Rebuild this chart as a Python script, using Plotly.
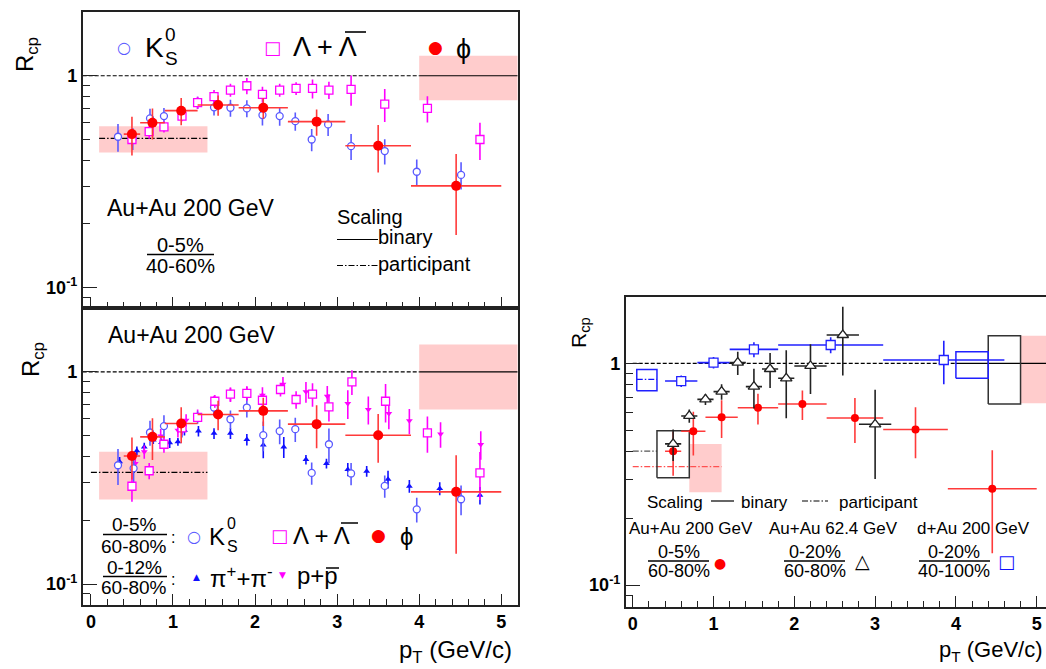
import math
import plotly.graph_objects as go

W, H = 1046, 669

# ---------------- DATA ----------------
# Top panel: Au+Au 200 GeV, 0-5% / 40-60%
top_k0s_pt = [0.33, 0.51, 0.72, 0.89, 1.30, 1.50, 1.70, 1.90, 2.09, 2.30, 2.49, 2.69, 2.89, 3.17, 3.58, 3.97, 4.51]
top_k0s_r = [0.515, 0.506, 0.629, 0.645, 0.746, 0.709, 0.706, 0.701, 0.652, 0.645, 0.610, 0.500, 0.589, 0.465, 0.441, 0.352, 0.340]
top_k0s_e = [0.077, 0.060, 0.070, 0.060, 0.050, 0.060, 0.065, 0.065, 0.070, 0.065, 0.060, 0.060, 0.070, 0.065, 0.060, 0.050, 0.050]

top_lam_pt = [0.50, 0.71, 0.89, 1.11, 1.30, 1.50, 1.70, 1.90, 2.09, 2.30, 2.50, 2.70, 2.90, 3.17, 3.58, 4.10, 4.74]
top_lam_r = [0.500, 0.544, 0.574, 0.645, 0.746, 0.796, 0.856, 0.897, 0.816, 0.856, 0.871, 0.871, 0.856, 0.862, 0.735, 0.701, 0.500]
top_lam_e = [0.035, 0.040, 0.035, 0.035, 0.050, 0.060, 0.060, 0.080, 0.070, 0.060, 0.060, 0.090, 0.080, 0.140, 0.130, 0.100, 0.100]

phi_pt = [0.50, 0.75, 1.10, 1.55, 2.10, 2.75, 3.50, 4.45]
phi_bin_half = [0.10, 0.15, 0.20, 0.25, 0.30, 0.35, 0.40, 0.55]
top_phi_r = [0.530, 0.600, 0.684, 0.727, 0.706, 0.607, 0.467, 0.302]
top_phi_e = [0.110, 0.100, 0.100, 0.080, 0.080, 0.086, 0.118, 0.125]

# Bottom panel: Au+Au 200 GeV, 0-5% / 60-80% (and 0-12% / 60-80%)
bot_k0s_pt = [0.33, 0.52, 0.72, 0.89, 1.11, 1.30, 1.50, 1.70, 1.90, 2.10, 2.30, 2.49, 2.69, 2.90, 3.17, 3.58, 3.97, 4.51]
bot_k0s_r = [0.363, 0.351, 0.518, 0.555, 0.541, 0.610, 0.679, 0.598, 0.679, 0.503, 0.526, 0.537, 0.334, 0.456, 0.332, 0.290, 0.225, 0.251]
bot_k0s_e = [0.070, 0.060, 0.070, 0.070, 0.050, 0.040, 0.060, 0.060, 0.070, 0.080, 0.070, 0.070, 0.040, 0.085, 0.040, 0.035, 0.030, 0.040]

bot_lam_pt = [0.50, 0.71, 0.89, 1.11, 1.30, 1.51, 1.70, 1.90, 2.09, 2.31, 2.50, 2.70, 2.90, 3.18, 3.59, 4.10, 4.74]
bot_lam_r = [0.289, 0.342, 0.456, 0.545, 0.610, 0.727, 0.785, 0.791, 0.735, 0.826, 0.741, 0.785, 0.684, 0.897, 0.727, 0.516, 0.334]
bot_lam_e = [0.045, 0.030, 0.040, 0.040, 0.030, 0.050, 0.060, 0.060, 0.060, 0.060, 0.070, 0.100, 0.100, 0.120, 0.150, 0.100, 0.085]

bot_pi_pt = [0.35, 0.56, 0.65, 0.76, 0.86, 0.96, 1.06, 1.14, 1.31, 1.50, 1.70, 1.90, 2.10, 2.35, 2.62, 2.87, 3.13, 3.36, 3.62, 3.88, 4.25, 4.74]
bot_pi_r = [0.377, 0.425, 0.443, 0.477, 0.465, 0.463, 0.468, 0.531, 0.526, 0.513, 0.513, 0.480, 0.452, 0.443, 0.386, 0.370, 0.347, 0.340, 0.312, 0.289, 0.282, 0.262]
bot_pi_e = [0.020, 0.020, 0.020, 0.020, 0.020, 0.025, 0.020, 0.030, 0.030, 0.030, 0.030, 0.030, 0.060, 0.050, 0.020, 0.020, 0.025, 0.020, 0.030, 0.020, 0.020, 0.025]

bot_p_pt = [0.54, 0.65, 0.85, 1.06, 1.16, 1.30, 1.50, 1.70, 1.90, 2.09, 2.34, 2.62, 2.88, 3.13, 3.38, 3.63, 3.88, 4.26, 4.75]
bot_p_r = [0.370, 0.420, 0.498, 0.531, 0.592, 0.625, 0.722, 0.782, 0.796, 0.776, 0.875, 0.805, 0.768, 0.709, 0.665, 0.637, 0.588, 0.509, 0.455]
bot_p_e = [0.030, 0.030, 0.040, 0.040, 0.040, 0.040, 0.050, 0.060, 0.060, 0.070, 0.070, 0.090, 0.090, 0.110, 0.100, 0.100, 0.080, 0.070, 0.070]

bot_phi_r = [0.401, 0.494, 0.571, 0.630, 0.655, 0.567, 0.503, 0.272]
bot_phi_e = [0.090, 0.110, 0.110, 0.100, 0.100, 0.130, 0.130, 0.133]

# Right panel: Au+Au 62.4 GeV 0-20%/60-80% phi, d+Au 200 GeV 0-20%/40-100% phi
auau62_pt = [0.5, 0.7, 0.9, 1.1, 1.3, 1.5, 1.7, 1.9, 2.2, 2.6, 3.0]
auau62_half = [0.1, 0.1, 0.1, 0.1, 0.1, 0.1, 0.1, 0.1, 0.2, 0.2, 0.2]
auau62_r = [0.433, 0.579, 0.688, 0.745, 1.007, 0.785, 0.943, 0.856, 0.973, 1.342, 0.531]
auau62_e = [0.070, 0.040, 0.040, 0.060, 0.120, 0.160, 0.170, 0.290, 0.245, 0.460, 0.230]

dau_pt = [0.60, 1.00, 1.50, 2.45, 3.85]
dau_half = [0.20, 0.20, 0.30, 0.65, 0.75]
dau_r = [0.832, 1.007, 1.156, 1.210, 1.035]
dau_e = [0.050, 0.060, 0.090, 0.100, 0.230]

# Scaling uncertainty bands [x0, x1, y0, y1]
top_part_band = [0.10, 1.42, 0.434, 0.578]
top_part_level = 0.506
top_bin_band = [4.00, 5.20, 0.767, 1.243]
bot_part_band = [0.10, 1.42, 0.250, 0.420]
bot_part_level = 0.336
bot_bin_band = [4.00, 5.20, 0.665, 1.345]
r_auau_part_band = [0.70, 1.10, 0.262, 0.433]
r_auau_part_level = 0.342
r_auau_bin_band = [4.80, 5.20, 0.660, 1.333]
r_62_part_box = [0.30, 0.70, 0.305, 0.497]
r_62_part_level = 0.402
r_62_bin_box = [4.40, 4.80, 0.656, 1.333]
r_dau_part_box = [0.05, 0.30, 0.753, 0.939]
r_dau_part_level = 0.847
r_dau_bin_box = [4.00, 4.40, 0.856, 1.129]

# ---------------- STYLE ----------------
FONT = "Liberation Sans, Arial, sans-serif"
PINK = "rgb(255,204,204)"
BLUE_K = "#5a5aff"
BLUE = "#1010ff"
MAG = "#ff00ff"
RED = "#ff0000"
RED_E = "#ff3a3a"

def pxX(x):
    return x / W

def pxY(y):
    return 1 - y / H

fig = go.Figure()

def band(ax, b, color):
    x0, x1, y0, y1 = b
    fig.add_trace(go.Scatter(x=[x0, x1, x1, x0, x0], y=[y0, y0, y1, y1, y0], mode="lines",
                             fill="toself", fillcolor=color, line=dict(width=0),
                             xaxis="x" + ax, yaxis="y" + ax, hoverinfo="skip", showlegend=False))

def box(ax, b, color):
    x0, x1, y0, y1 = b
    fig.add_trace(go.Scatter(x=[x0, x1, x1, x0, x0], y=[y0, y0, y1, y1, y0], mode="lines",
                             line=dict(color=color, width=1.5),
                             xaxis="x" + ax, yaxis="y" + ax, hoverinfo="skip", showlegend=False))

def hline(ax, x0, x1, y, color, dash, width=1.2):
    fig.add_trace(go.Scatter(x=[x0, x1], y=[y, y], mode="lines",
                             line=dict(color=color, width=width, dash=dash),
                             xaxis="x" + ax, yaxis="y" + ax, hoverinfo="skip", showlegend=False))

def series(ax, x, y, ey, symbol, size, fill, lc, ecol, ex=None, lw=1.3, ew=1.6):
    kw = {}
    if ex is not None:
        kw["error_x"] = dict(type="data", array=ex, visible=True, color=ecol, thickness=ew, width=0)
    fig.add_trace(go.Scatter(x=x, y=y, mode="markers",
                             marker=dict(symbol=symbol, size=size, color=fill, line=dict(color=lc, width=lw)),
                             error_y=dict(type="data", array=ey, visible=True, color=ecol, thickness=ew, width=0),
                             xaxis="x" + ax, yaxis="y" + ax, showlegend=False, **kw))

DASH = "4px,2px"
DASHDOT = "6px,2px,1.5px,2px"

# ---- top panel (axis suffix "") ----
band("", top_part_band, PINK)
band("", top_bin_band, PINK)
hline("", -0.1, 4.0, 1.0, "black", DASH)
hline("", 4.0, 5.2, 1.0, "black", "solid")
hline("", top_part_band[0], top_part_band[1], top_part_level, "black", DASHDOT)
series("", top_k0s_pt, top_k0s_r, top_k0s_e, "circle", 7, "white", BLUE_K, BLUE_K)
series("", top_lam_pt, top_lam_r, top_lam_e, "square", 8, "white", MAG, MAG)
series("", phi_pt, top_phi_r, top_phi_e, "circle", 10, RED, RED, RED_E, ex=phi_bin_half, lw=0)

# ---- bottom panel (axis suffix "2") ----
band("2", bot_part_band, PINK)
band("2", bot_bin_band, PINK)
hline("2", -0.1, 4.0, 1.0, "black", DASH)
hline("2", 4.0, 5.2, 1.0, "black", "solid")
hline("2", 0.0, bot_part_band[1], bot_part_level, "black", DASHDOT)
series("2", bot_pi_pt, bot_pi_r, bot_pi_e, "triangle-up", 6, BLUE, BLUE, BLUE, lw=0)
series("2", bot_p_pt, bot_p_r, bot_p_e, "triangle-down", 6, MAG, MAG, MAG, lw=0)
series("2", bot_k0s_pt, bot_k0s_r, bot_k0s_e, "circle", 7, "white", BLUE_K, BLUE_K)
series("2", bot_lam_pt, bot_lam_r, bot_lam_e, "square", 8, "white", MAG, MAG)
series("2", phi_pt, bot_phi_r, bot_phi_e, "circle", 10, RED, RED, RED_E, ex=phi_bin_half, lw=0)

# ---- right panel (axis suffix "3") ----
band("3", r_auau_part_band, PINK)
band("3", r_auau_bin_band, PINK)
hline("3", 0.0, 4.0, 1.0, "black", DASH)
hline("3", 4.0, 5.2, 1.0, "black", "solid")
hline("3", 0.0, r_auau_part_band[1], r_auau_part_level, "#ff5050", DASHDOT)
hline("3", 0.0, r_62_part_box[0], r_62_part_level, "#555555", DASHDOT)
hline("3", r_dau_part_box[0], r_dau_part_box[1], r_dau_part_level, BLUE, DASHDOT)
box("3", r_62_part_box, "#333333")
box("3", r_62_bin_box, "#333333")
box("3", r_dau_part_box, "#2020ff")
box("3", r_dau_bin_box, "#2020ff")
series("3", phi_pt, bot_phi_r, bot_phi_e, "circle", 8, RED, RED, RED_E, ex=phi_bin_half, lw=0)
series("3", dau_pt, dau_r, dau_e, "square", 9, "white", "#2020ff", "#2020ff", ex=dau_half)
series("3", auau62_pt, auau62_r, auau62_e, "triangle-up", 10, "white", "#222222", "#222222", ex=auau62_half)

# ---------------- AXES ----------------
LOGR = [math.log10(0.08), math.log10(2.0)]
ytick_minor = [0.08, 0.09, 0.2, 0.3, 0.4, 0.5, 0.6, 0.7, 0.8, 0.9, 2.0]
tickfont = dict(family=FONT, size=18, color="black", weight="bold")

def xax(domain, rng, anchor, labels):
    return dict(domain=domain, range=rng, anchor=anchor, showline=True, linecolor="#222222", linewidth=1.5,
                mirror=True, ticks="inside", ticklen=11, tickwidth=1.2, tickcolor="#222222",
                tickvals=[0, 1, 2, 3, 4, 5], ticktext=["0", "1", "2", "3", "4", "5"],
                showticklabels=labels, tickfont=tickfont, showgrid=False, zeroline=False,
                minor=dict(ticks="inside", ticklen=6, tickwidth=1.2, tickcolor="#222222", dtick=0.2, tick0=0, showgrid=False))

def yax(domain, anchor, mirror=True):
    return dict(domain=domain, type="log", range=LOGR, anchor=anchor, showline=True, linecolor="#222222",
                linewidth=1.5, mirror=mirror, ticks="inside", ticklen=15, tickwidth=1.2, tickcolor="#222222",
                tickvals=[0.1, 1], ticktext=["10<sup>-1</sup>", "1"], tickfont=tickfont,
                showgrid=False, zeroline=False,
                minor=dict(ticks="inside", ticklen=8, tickwidth=1.2, tickcolor="#222222",
                           tickmode="array", tickvals=ytick_minor, showgrid=False))

XL = [pxX(82.7), pxX(517.7)]
XR = [pxX(625.7), 1.0]
YT = [pxY(308), pxY(12)]
YB = [pxY(604.6), pxY(308)]
YR = [pxY(606.5), pxY(296.6)]

layout = dict(
    width=W, height=H, margin=dict(l=0, r=0, t=0, b=0),
    paper_bgcolor="white", plot_bgcolor="white", showlegend=False,
    font=dict(family=FONT, color="black"),
    xaxis=xax(XL, [-0.1, 5.2], "y", False), yaxis=yax(YT, "x"),
    xaxis2=xax(XL, [-0.1, 5.2], "y2", True), yaxis2=yax(YB, "x2"),
    xaxis3=xax(XR, [-0.087, 5.115], "y3", True), yaxis3=yax(YR, "x3", mirror=False),
)
fig.update_layout(**layout)

# ---------------- TEXT ----------------
ann = []
def T(x, y, text, size, color="black", xa="left", ya="middle", angle=0, fam=FONT):
    ann.append(dict(x=pxX(x), y=pxY(y), xref="paper", yref="paper", text=text, showarrow=False,
                    xanchor=xa, yanchor=ya, textangle=angle, borderpad=0,
                    font=dict(family=fam, size=size, color=color)))

SYM = "DejaVu Sans"
shapes = []
def L(x0, y0, x1, y1, color="black", dash="solid", width=1.2):
    shapes.append(dict(type="line", xref="paper", yref="paper", x0=pxX(x0), y0=pxY(y0), x1=pxX(x1), y1=pxY(y1),
                       line=dict(color=color, width=width, dash=dash)))

# top panel legend
T(124, 47, "○", 16, BLUE_K, xa="center", fam=SYM)
T(144, 47, "K", 28)
T(164, 34, "0", 19)
T(164, 59, "S", 19)
T(272, 47, "□", 18, MAG, xa="center", fam=SYM)
T(292, 47, "Λ + Λ", 27)
L(345, 32, 366, 32, width=1.6)
T(435, 47, "●", 17, RED, xa="center", fam=SYM)
T(455, 49, "ϕ", 27)
T(106, 208, "Au+Au 200 GeV", 23)
T(180, 245, "0-5%", 20, xa="center")
T(180, 266, "40-60%", 20, xa="center")
L(147, 254.5, 214, 254.5, width=1.3)
T(336, 217, "Scaling", 20)
L(337, 239.5, 378, 239.5)
T(377, 237, "binary", 20)
L(337, 265.5, 378, 265.5, dash=DASHDOT)
T(377, 264, "participant", 20)
T(27, 55, "R<sub>cp</sub>", 24, xa="center", angle=-90)

# bottom panel legend
T(107, 335, "Au+Au 200 GeV", 23)
T(134, 524, "0-5%", 19, xa="center")
T(134, 546, "60-80%", 19, xa="center")
L(103, 534.5, 167, 534.5, width=1.3)
T(173, 537, ":", 16, xa="center")
T(194, 536, "○", 16, BLUE_K, xa="center", fam=SYM)
T(208, 536, "K", 24)
T(226, 523, "0", 16)
T(226, 546, "S", 16)
T(279, 535, "□", 18, MAG, xa="center", fam=SYM)
T(292, 535, "Λ + Λ", 24)
L(341, 523, 358, 523, width=1.5)
T(378, 535, "●", 17, RED, xa="center", fam=SYM)
T(399, 536, "ϕ", 24)
T(134, 567, "0-12%", 19, xa="center")
T(134, 587, "60-80%", 19, xa="center")
L(103, 576.5, 167, 576.5, width=1.3)
T(173, 579, ":", 16, xa="center")
T(196, 577, "▲", 9, BLUE, xa="center", fam=SYM)
T(209, 577, "π<sup>+</sup>+π<sup>-</sup>", 24)
T(282, 575, "▼", 9, MAG, xa="center", fam=SYM)
T(296, 575, "p+p", 24)
L(326, 568, 339, 568, width=1.5)
T(32, 360, "R<sub>cp</sub>", 24, xa="center", angle=-90)
T(513, 651, "p<sub>T</sub> (GeV/c)", 24, xa="right")

# right panel legend
T(646, 502, "Scaling", 17)
L(711, 501, 734, 501)
T(740, 502, "binary", 17)
L(802, 501, 828, 501, dash=DASHDOT)
T(838, 502, "participant", 17)
T(628, 528, "Au+Au 200 GeV", 17)
T(768, 528, "Au+Au 62.4 GeV", 17)
T(916, 528, "d+Au 200 GeV", 17)
T(679, 552, "0-5%", 18, xa="center")
T(679, 571, "60-80%", 18, xa="center")
L(648, 561, 709, 561, width=1.3)
T(720, 563, "●", 14, RED, xa="center", fam=SYM)
T(815, 552, "0-20%", 18, xa="center")
T(815, 571, "60-80%", 18, xa="center")
L(784, 561, 845, 561, width=1.3)
T(862, 561, "△", 19, "black", xa="center", fam=SYM)
T(954, 552, "0-20%", 18, xa="center")
T(954, 571, "40-100%", 18, xa="center")
L(919, 561, 990, 561, width=1.3)
T(1006, 561, "□", 18, BLUE, xa="center", fam=SYM)
T(580, 333, "R<sub>cp</sub>", 21, xa="center", angle=-90)
T(1044, 651, "p<sub>T</sub> (GeV/c)", 22, xa="right")

fig.update_layout(annotations=ann, shapes=shapes)
fig.write_html("out.html")
